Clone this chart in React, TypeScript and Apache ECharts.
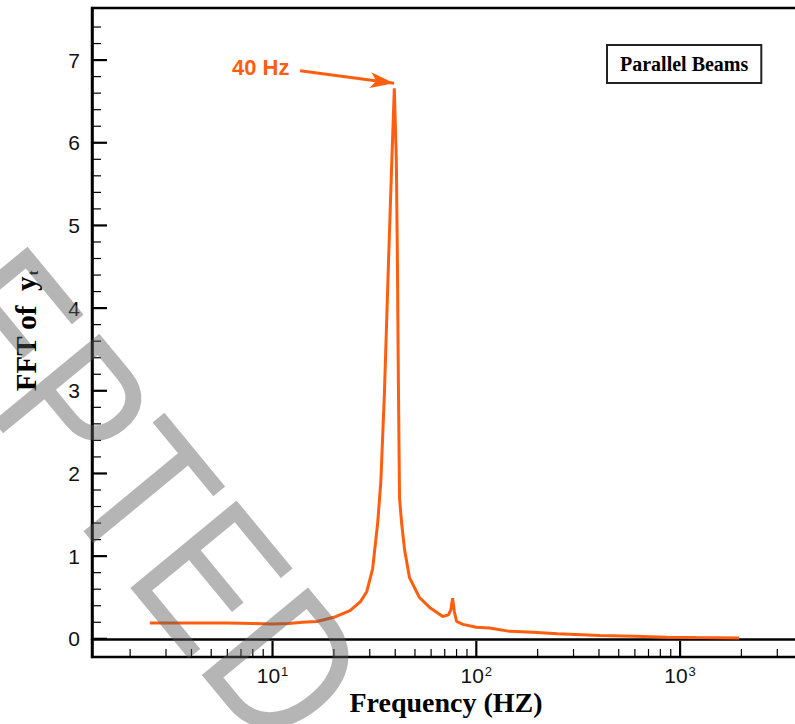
import React, { useEffect, useRef } from 'react';
import * as echarts from 'echarts';

// ---- data ----
const FREQ_HZ = [
  2.5, 3, 4, 5, 6, 8, 10, 12, 14, 16.5, 20, 24, 27, 29, 31, 32.8, 34, 35.4, 37.1, 38.5,
  39.6, 40.5, 41.0, 41.5, 42.0, 43.0, 44.5, 47, 52.6, 59, 68.5, 73, 75, 76.5, 78, 80, 86,
  100, 116, 146, 190, 250, 405, 600, 862, 1200, 1950,
];
const FFT_YT = [
  0.19, 0.19, 0.19, 0.19, 0.19, 0.185, 0.18, 0.185, 0.2, 0.21, 0.26, 0.34, 0.45, 0.57, 0.85, 1.4, 1.9, 2.97, 4.58, 5.79,
  6.66, 5.79, 4.58, 2.97, 1.7, 1.4, 1.07, 0.74, 0.5, 0.38, 0.27, 0.29, 0.35, 0.49, 0.33, 0.21, 0.175,
  0.14, 0.13, 0.09, 0.08, 0.06, 0.04, 0.03, 0.02, 0.015, 0.01,
];
const X_MAJOR_TICKS = [10, 100, 1000];
const X_MINOR_TICKS = [
  2, 3, 4, 5, 6, 7, 8, 9,
  20, 30, 40, 50, 60, 70, 80, 90,
  200, 300, 400, 500, 600, 700, 800, 900,
  2000, 3000, 4000,
];
const Y_MAJOR_TICKS = [0, 1, 2, 3, 4, 5, 6, 7];
const Y_MINOR_TICKS = [
  0.2, 0.4, 0.6, 0.8, 1.2, 1.4, 1.6, 1.8, 2.2, 2.4, 2.6, 2.8, 3.2, 3.4, 3.6, 3.8,
  4.2, 4.4, 4.6, 4.8, 5.2, 5.4, 5.6, 5.8, 6.2, 6.4, 6.6, 6.8, 7.2, 7.4,
];
const SERIES_NAME = 'Parallel Beams';
const PEAK_LABEL = '40 Hz';
const ARROW_FROM = [13.65, 6.87];
const ARROW_TO = [39.5, 6.72];

const X_MIN = 1.3;
const X_MAX = 5000;
const Y_MIN = -0.22;
const Y_MAX = 7.63;

const ORANGE = '#FF5E10';
const SANS = '"Liberation Sans", Arial, sans-serif';
const SERIF = '"Liberation Serif", "Times New Roman", serif';

export default function App() {
  const ref = useRef<HTMLDivElement>(null);

  useEffect(() => {
    if (!ref.current) return;
    const chart = echarts.init(ref.current, undefined, { renderer: 'svg' });

    const tickData = [
      ...X_MAJOR_TICKS.map((v) => [v, Y_MIN, 0]),
      ...X_MINOR_TICKS.map((v) => [v, Y_MIN, 1]),
      ...Y_MAJOR_TICKS.map((v) => [X_MIN, v, 2]),
      ...Y_MINOR_TICKS.map((v) => [X_MIN, v, 3]),
    ];

    const option: any = {
      animation: false,
      backgroundColor: '#ffffff',
      grid: {
        left: 92,
        top: 8,
        width: 730.5,
        height: 649,
        outerBoundsMode: 'none',
        containLabel: false,
        show: true,
        borderColor: '#000',
        borderWidth: 2.5,
        backgroundColor: 'transparent',
      },
      legend: {
        show: true,
        data: [SERIES_NAME],
        left: 607,
        top: 45,
        icon: 'none',
        itemWidth: 0,
        itemHeight: 20,
        padding: [9, 13, 9, 8],
        borderColor: '#222',
        borderWidth: 2,
        backgroundColor: '#fff',
        selectedMode: false,
        textStyle: { fontFamily: SERIF, fontWeight: 'bold', fontSize: 20, color: '#000' },
      },
      xAxis: {
        type: 'log',
        logBase: 10,
        min: X_MIN,
        max: X_MAX,
        axisLine: { show: true, lineStyle: { color: '#000', width: 2.5 } },
        axisTick: { show: false },
        splitLine: { show: false },
        minorTick: { show: false },
        axisLabel: {
          margin: 8,
          showMinLabel: false,
          showMaxLabel: false,
          color: '#111',
          fontFamily: SANS,
          fontSize: 21,
          formatter: (v: number) => {
            const e = Math.log10(v);
            if (Math.abs(e - Math.round(e)) > 1e-6) return '';
            return '10{sup|' + Math.round(e) + '}';
          },
          rich: {
            sup: { fontSize: 13, fontFamily: SANS, color: '#111', verticalAlign: 'top', padding: [0, 0, 8, 1] },
          },
        },
      },
      yAxis: {
        type: 'value',
        min: Y_MIN,
        max: Y_MAX,
        splitNumber: 8,
        minInterval: 1,
        maxInterval: 1,
        axisLine: { show: true, lineStyle: { color: '#000', width: 2.5 } },
        axisTick: { show: false },
        splitLine: { show: false },
        axisLabel: {
          margin: 12,
          showMinLabel: false,
          showMaxLabel: false,
          color: '#111',
          fontFamily: SANS,
          fontSize: 21,
          formatter: (v: number) => (Math.abs(v - Math.round(v)) < 1e-6 ? String(Math.round(v)) : ''),
        },
      },
      series: [
        {
          name: SERIES_NAME,
          type: 'line',
          data: FREQ_HZ.map((f, i) => [f, FFT_YT[i]]),
          showSymbol: false,
          symbol: 'none',
          lineStyle: { color: ORANGE, width: 3 },
          itemStyle: { color: ORANGE },
          z: 5,
          markLine: {
            silent: true,
            symbol: ['none', 'arrow'],
            symbolSize: [12, 24],
            label: { show: false },
            lineStyle: { color: ORANGE, width: 3, type: 'solid' },
            itemStyle: { color: ORANGE },
            data: [[{ coord: ARROW_FROM }, { coord: ARROW_TO }]],
          },
        },
        {
          name: 'ticks',
          type: 'custom',
          clip: false,
          silent: true,
          z: 6,
          data: tickData,
          encode: { x: 0, y: 1 },
          renderItem: (_params: any, api: any) => {
            const kind = api.value(2);
            const p = api.coord([api.value(0), api.value(1)]);
            const major = kind === 0 || kind === 2;
            const style = { stroke: '#000', lineWidth: major ? 2.2 : 1.2 };
            if (kind < 2) {
              const len = major ? 16 : 8;
              return { type: 'line', shape: { x1: p[0], y1: p[1], x2: p[0], y2: p[1] - len }, style };
            }
            const len = major ? 15 : 9;
            return { type: 'line', shape: { x1: p[0], y1: p[1], x2: p[0] + len, y2: p[1] }, style };
          },
        },
      ],
      graphic: [
        {
          type: 'text',
          x: 26,
          y: 331,
          rotation: Math.PI / 2,
          style: {
            text: 'FFT of  y{sub|t}',
            fontFamily: SERIF,
            fontWeight: 'bold',
            fontSize: 29,
            fill: '#000',
            align: 'center',
            verticalAlign: 'middle',
            rich: {
              sub: { fontFamily: SERIF, fontWeight: 'bold', fontSize: 14, fill: '#000', verticalAlign: 'bottom', padding: [0, 0, 0, 1] },
            },
          },
        },
        {
          type: 'text',
          x: 446,
          y: 702,
          style: {
            text: 'Frequency (HZ)',
            fontFamily: SERIF,
            fontWeight: 'bold',
            fontSize: 28,
            fill: '#000',
            align: 'center',
            verticalAlign: 'middle',
          },
        },
        {
          type: 'text',
          x: 232,
          y: 67,
          style: {
            text: PEAK_LABEL,
            fontFamily: SANS,
            fontWeight: 'bold',
            fontSize: 22,
            fill: ORANGE,
            align: 'left',
            verticalAlign: 'middle',
          },
        },
        {
          type: 'text',
          x: 32,
          y: 359,
          z: 100,
          silent: true,
          scaleX: 0.845,
          rotation: (-50.5 * Math.PI) / 180,
          style: {
            text: 'ACCEPTED',
            fontFamily: SANS,
            fontSize: 200,
            fill: 'rgba(90,90,90,0.45)',
            align: 'center',
            verticalAlign: 'middle',
          },
        },
      ],
    };

    chart.setOption(option);
    return () => chart.dispose();
  }, []);

  return (
    <div
      ref={ref}
      style={{ position: 'fixed', left: 0, top: 0, width: 795, height: 724, background: '#fff' }}
    />
  );
}
